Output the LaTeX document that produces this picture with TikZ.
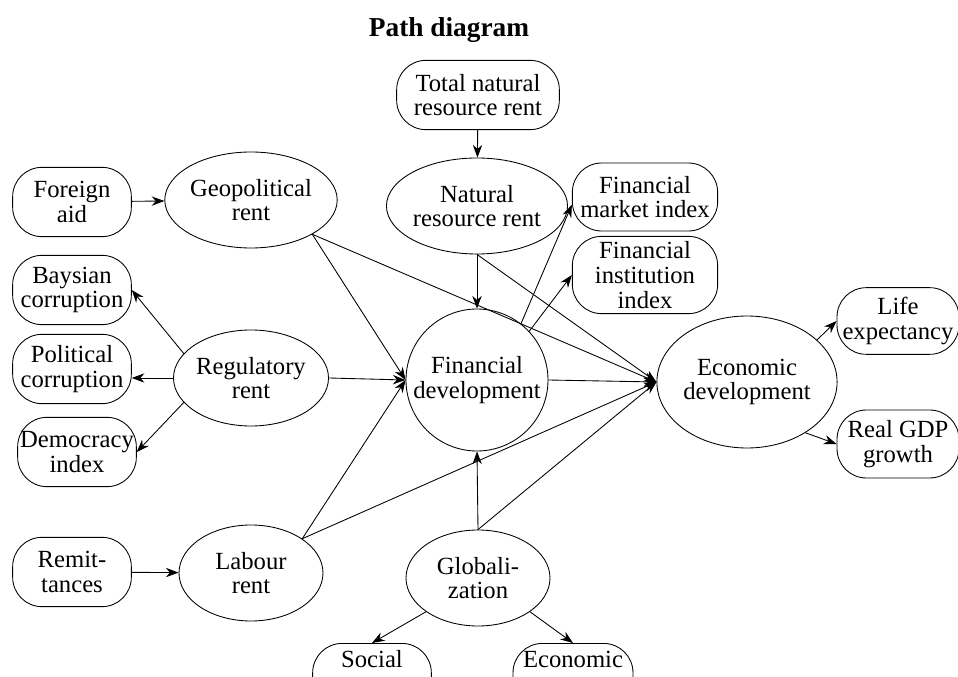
\documentclass[tikz,border=0pt]{standalone}
\usepackage{fontspec}
\setmainfont{Liberation Serif}
\usetikzlibrary{shapes.geometric,arrows.meta}

\begin{document}
\begin{tikzpicture}[x=0.75pt,y=-0.75pt,line cap=round,line join=round,
  every node/.style={font=\fontsize{18.5}{18.5}\selectfont,align=center,inner sep=0pt},
  latent/.style={draw,ellipse,line width=0.65pt,minimum width=108pt,minimum height=72pt},
  factor/.style={draw,circle,line width=0.65pt,minimum size=106.5pt},
  indic/.style={draw,rounded corners=22pt,line width=0.65pt,minimum width=89pt,minimum height=52pt},
  arr/.style={-{Stealth[length=9.5pt,width=7pt]},line width=0.65pt}]
  \useasboundingbox (0,0) rectangle (958,677);
  \clip (0,0) rectangle (958,677);
  \node[font=\fontsize{20.5}{22}\selectfont\bfseries] (title) at (449,30) {Path diagram};
  % rents
  \node[indic,minimum width=122pt] (tnr) at (478,95) {Total natural\\resource rent};
  \node[latent] (nrr) at (477,206) {Natural\\resource rent};
  \node[indic] (aid) at (72,202) {Foreign\\aid};
  \node[latent] (geo) at (251,200) {Geopolitical\\rent};
  \node[indic] (bay) at (72,290) {Baysian\\corruption};
  \node[indic] (pol) at (72,369) {Political\\corruption};
  \node[indic] (dem) at (77,452) {Democracy\\index};
  \node[latent] (reg) at (251,378) {Regulatory\\rent};
  \node[indic] (rem) at (72,572) {Remit-\\tances};
  \node[latent] (lab) at (251,573) {Labour\\rent};
  % development
  \node[factor] (fd) at (477,380) {Financial\\development};
  \node[indic,minimum width=109pt,minimum height=51pt] (fmi) at (645,197) {Financial\\market index};
  \node[indic,minimum width=109pt,minimum height=58pt] (fii) at (645,275) {Financial\\institution\\index};
  \node[latent,minimum width=107pt,minimum height=99pt] (ed) at (747,382) {Economic\\development};
  \node[indic,minimum width=91.5pt,minimum height=50pt] (life) at (898,321) {Life\\expectancy};
  \node[indic,minimum width=91.5pt,minimum height=51pt] (gdp) at (898,444) {Real GDP\\growth};
  % globalization
  \node[latent] (glo) at (478,578) {Globali-\\zation};
  \node[indic,anchor=north,text height=17.5pt,text depth=33.5pt] (soc) at (372,643) {Social};
  \node[indic,minimum width=90pt,anchor=north,text height=17.5pt,text depth=33.5pt] (eco) at (573,643) {Economic};

  \draw[arr] (tnr) -- (nrr);
  \draw[arr] (aid) -- (geo);
  \draw[arr] (geo.south east) -- (fd.west);
  \draw[arr] (geo.south east) -- (ed.west);
  \draw[arr] (reg.160) -- (bay.east);
  \draw[arr] (reg.west) -- (reg.west -| pol.east);
  \draw[arr] (reg.200) -- (dem.east);
  \draw[arr] (reg.east) -- (fd.west);
  \draw[arr] (rem) -- (lab);
  \draw[arr] (lab.north east) -- (fd.west);
  \draw[arr] (lab.north east) -- (ed.west);
  \draw[arr] (nrr.south) -- (fd.north);
  \draw[arr] (nrr.south) -- (ed.west);
  \draw[arr] (fd.52) -- (fmi.186);
  \draw[arr] (fd.43) -- (fii.west);
  \draw[arr] (fd.east) -- (ed.west);
  \draw[arr] (glo.north) -- (fd.south);
  \draw[arr] (glo.north) -- (ed.west);
  \draw[arr] (glo.213) -- (soc.north);
  \draw[arr] (glo.327) -- (eco.north);
  \draw[arr] (ed.31) -- (life.west);
  \draw[arr] (ed.-41) -- (gdp.west);
\end{tikzpicture}
\end{document}
